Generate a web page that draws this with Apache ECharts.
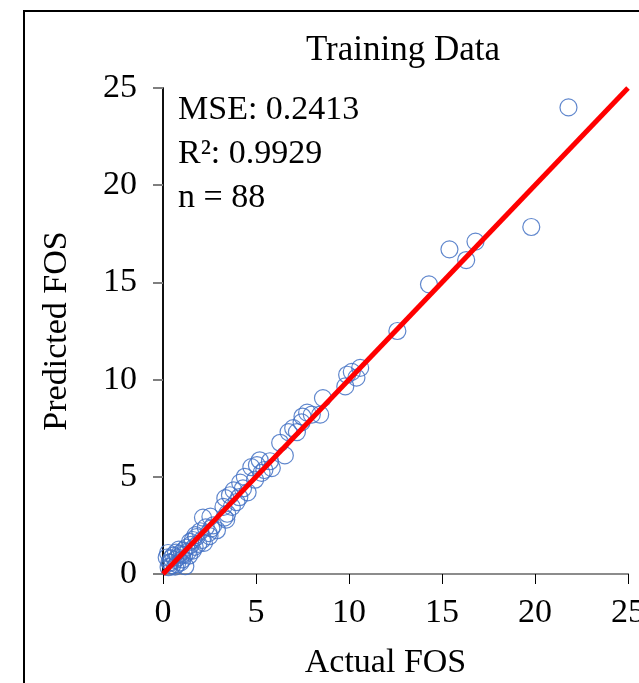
<!DOCTYPE html>
<html>
<head>
<meta charset="utf-8">
<script src="https://cdn.jsdelivr.net/npm/echarts@6/dist/echarts.min.js"></script>
<style>
  html, body { margin: 0; padding: 0; background: #fff; }
</style>
</head>
<body>
<div id="myECharts" style="width: 639px;height:683px;"></div>
<script>
// Actual vs predicted FOS, training set
var actualFOS = [
  21.8, 19.8, 16.8, 15.4, 16.3, 14.3, 12.6,
  10.6, 10.15, 9.9, 9.8, 10.4,
  8.6, 8.45, 8.0, 7.75, 7.5, 7.45, 7.2, 7.0, 6.75,
  6.3, 6.55, 5.75, 5.2, 5.05, 5.45, 5.85, 5.3,
  4.75, 4.4, 4.95, 4.15, 4.55, 3.8, 3.6, 3.35, 3.95, 3.25, 3.7, 4.3, 4.1, 3.45, 3.3,
  2.55, 2.15, 3.4, 2.9, 2.45, 2.1, 1.7, 1.35, 1.0, 0.65, 0.4, 0.27, 0.65, 1.2,
  2.7, 2.3, 2.0, 1.8, 1.6, 1.5, 1.9, 1.25, 1.1, 0.9, 0.8, 0.55, 0.45, 0.35, 0.75,
  0.95, 1.05, 1.4, 1.6, 2.2, 2.5, 0.3, 0.5, 1.15, 0.85, 1.45, 2.6, 0.2, 0.7, 1.75
]
var predictedFOS = [
  24.0, 17.85, 17.1, 16.7, 16.15, 14.9, 12.5,
  10.6, 10.4, 10.25, 9.65, 10.1,
  9.05, 8.2, 8.2, 8.3, 8.1, 7.8, 7.3, 7.5, 7.3,
  6.75, 6.1, 5.8, 5.85, 5.6, 5.35, 5.45, 5.2,
  5.5, 5.0, 4.85, 4.7, 4.2, 4.3, 4.05, 3.9, 3.7, 3.45, 3.45, 4.4, 3.95, 3.1, 2.9,
  2.95, 2.9, 2.8, 2.25, 2.1, 1.75, 1.4, 1.15, 0.98, 0.72, 0.57, 1.08, 0.38, 0.4,
  2.5, 2.4, 2.2, 1.9, 1.75, 1.5, 1.55, 1.35, 1.2, 1.05, 0.85, 0.95, 0.8, 0.6, 0.5,
  0.6, 0.75, 0.95, 1.2, 1.6, 1.95, 0.35, 0.45, 1.0, 1.25, 1.65, 2.35, 0.85, 1.1, 2.0
]
var idealLine = [[0, 0], [25, 25]]
var axisTicks = [0, 5, 10, 15, 20, 25]
var statLines = ['MSE: 0.2413', 'R\u00b2: 0.9929', 'n = 88']

var serif = '"Liberation Serif", "Times New Roman", serif'

var points = []
for (var i = 0; i < actualFOS.length; i++) {
  points.push([actualFOS[i], predictedFOS[i]])
}

var statTexts = statLines.map(function(t, i) {
  return {
    type: 'text',
    left: 178,
    top: 93 + i * 44,
    style: { text: t, font: '34px ' + serif, fill: '#000' }
  }
})

var option = {
  animation: false,
  title: {
    text: 'Training Data',
    left: 398,
    top: 28,
    textAlign: 'center',
    textStyle: { fontFamily: serif, fontSize: 35, fontWeight: 'normal', color: '#000' }
  },
  graphic: [
    {
      type: 'rect',
      shape: { x: 24, y: 11, width: 700, height: 800 },
      style: { fill: 'none', stroke: '#000', lineWidth: 2 },
      silent: true
    }
  ].concat(statTexts),
  grid: { left: 163, top: 88, width: 465, height: 486, outerBoundsMode: 'none', containLabel: false },
  xAxis: [
    {
      type: 'value',
      min: axisTicks[0],
      max: axisTicks[axisTicks.length - 1],
      interval: 5,
      name: 'Actual FOS',
      nameLocation: 'middle',
      nameGap: 72,
      // shift a little left, as in the picture
      nameTextStyle: { fontFamily: serif, fontSize: 34, color: '#000', padding: [0, 20, 0, 0] },
      axisLine: { show: true, onZero: false, lineStyle: { color: '#7f7f7f', width: 2 } },
      axisTick: { show: true, inside: false, length: 10, lineStyle: { color: '#000', width: 1 } },
      axisLabel: { margin: 22, fontFamily: serif, fontSize: 34, color: '#000' },
      splitLine: { show: false }
    },
    {
      type: 'value',
      position: 'top',
      min: 0,
      max: 25,
      interval: 5,
      axisLine: { show: true, lineStyle: { color: '#8c8c8c', width: 2 } },
      axisTick: { show: false },
      axisLabel: { show: false },
      splitLine: { show: false }
    }
  ],
  yAxis: [
    {
      type: 'value',
      min: axisTicks[0],
      max: axisTicks[axisTicks.length - 1],
      interval: 5,
      name: 'Predicted FOS',
      nameLocation: 'middle',
      nameGap: 89,
      nameTextStyle: { fontFamily: serif, fontSize: 34, color: '#000' },
      axisLine: { show: true, onZero: false, lineStyle: { color: '#000', width: 1.5 } },
      axisTick: { show: true, inside: false, length: 10, lineStyle: { color: '#7f7f7f', width: 2 } },
      axisLabel: { margin: 26, fontFamily: serif, fontSize: 34, color: '#000' },
      splitLine: { show: false }
    },
    {
      type: 'value',
      position: 'right',
      min: 0,
      max: 25,
      interval: 5,
      axisLine: { show: true, lineStyle: { color: '#000', width: 1.5 } },
      axisTick: { show: false },
      axisLabel: { show: false },
      splitLine: { show: false }
    }
  ],
  series: [
    {
      type: 'scatter',
      data: points,
      symbol: 'circle',
      symbolSize: 17,
      itemStyle: {
        color: 'rgba(255,255,255,0)',
        borderColor: '#4472c4',
        borderWidth: 1.2,
        opacity: 0.85
      },
      z: 2
    },
    {
      type: 'line',
      data: idealLine,
      symbol: 'none',
      lineStyle: { color: '#ff0000', width: 5 },
      z: 3
    }
  ]
}

var myChart = echarts.init(document.getElementById('myECharts'))
if (option && typeof option === 'object') {
  myChart.setOption(option, true)
}
</script>
</body>
</html>
